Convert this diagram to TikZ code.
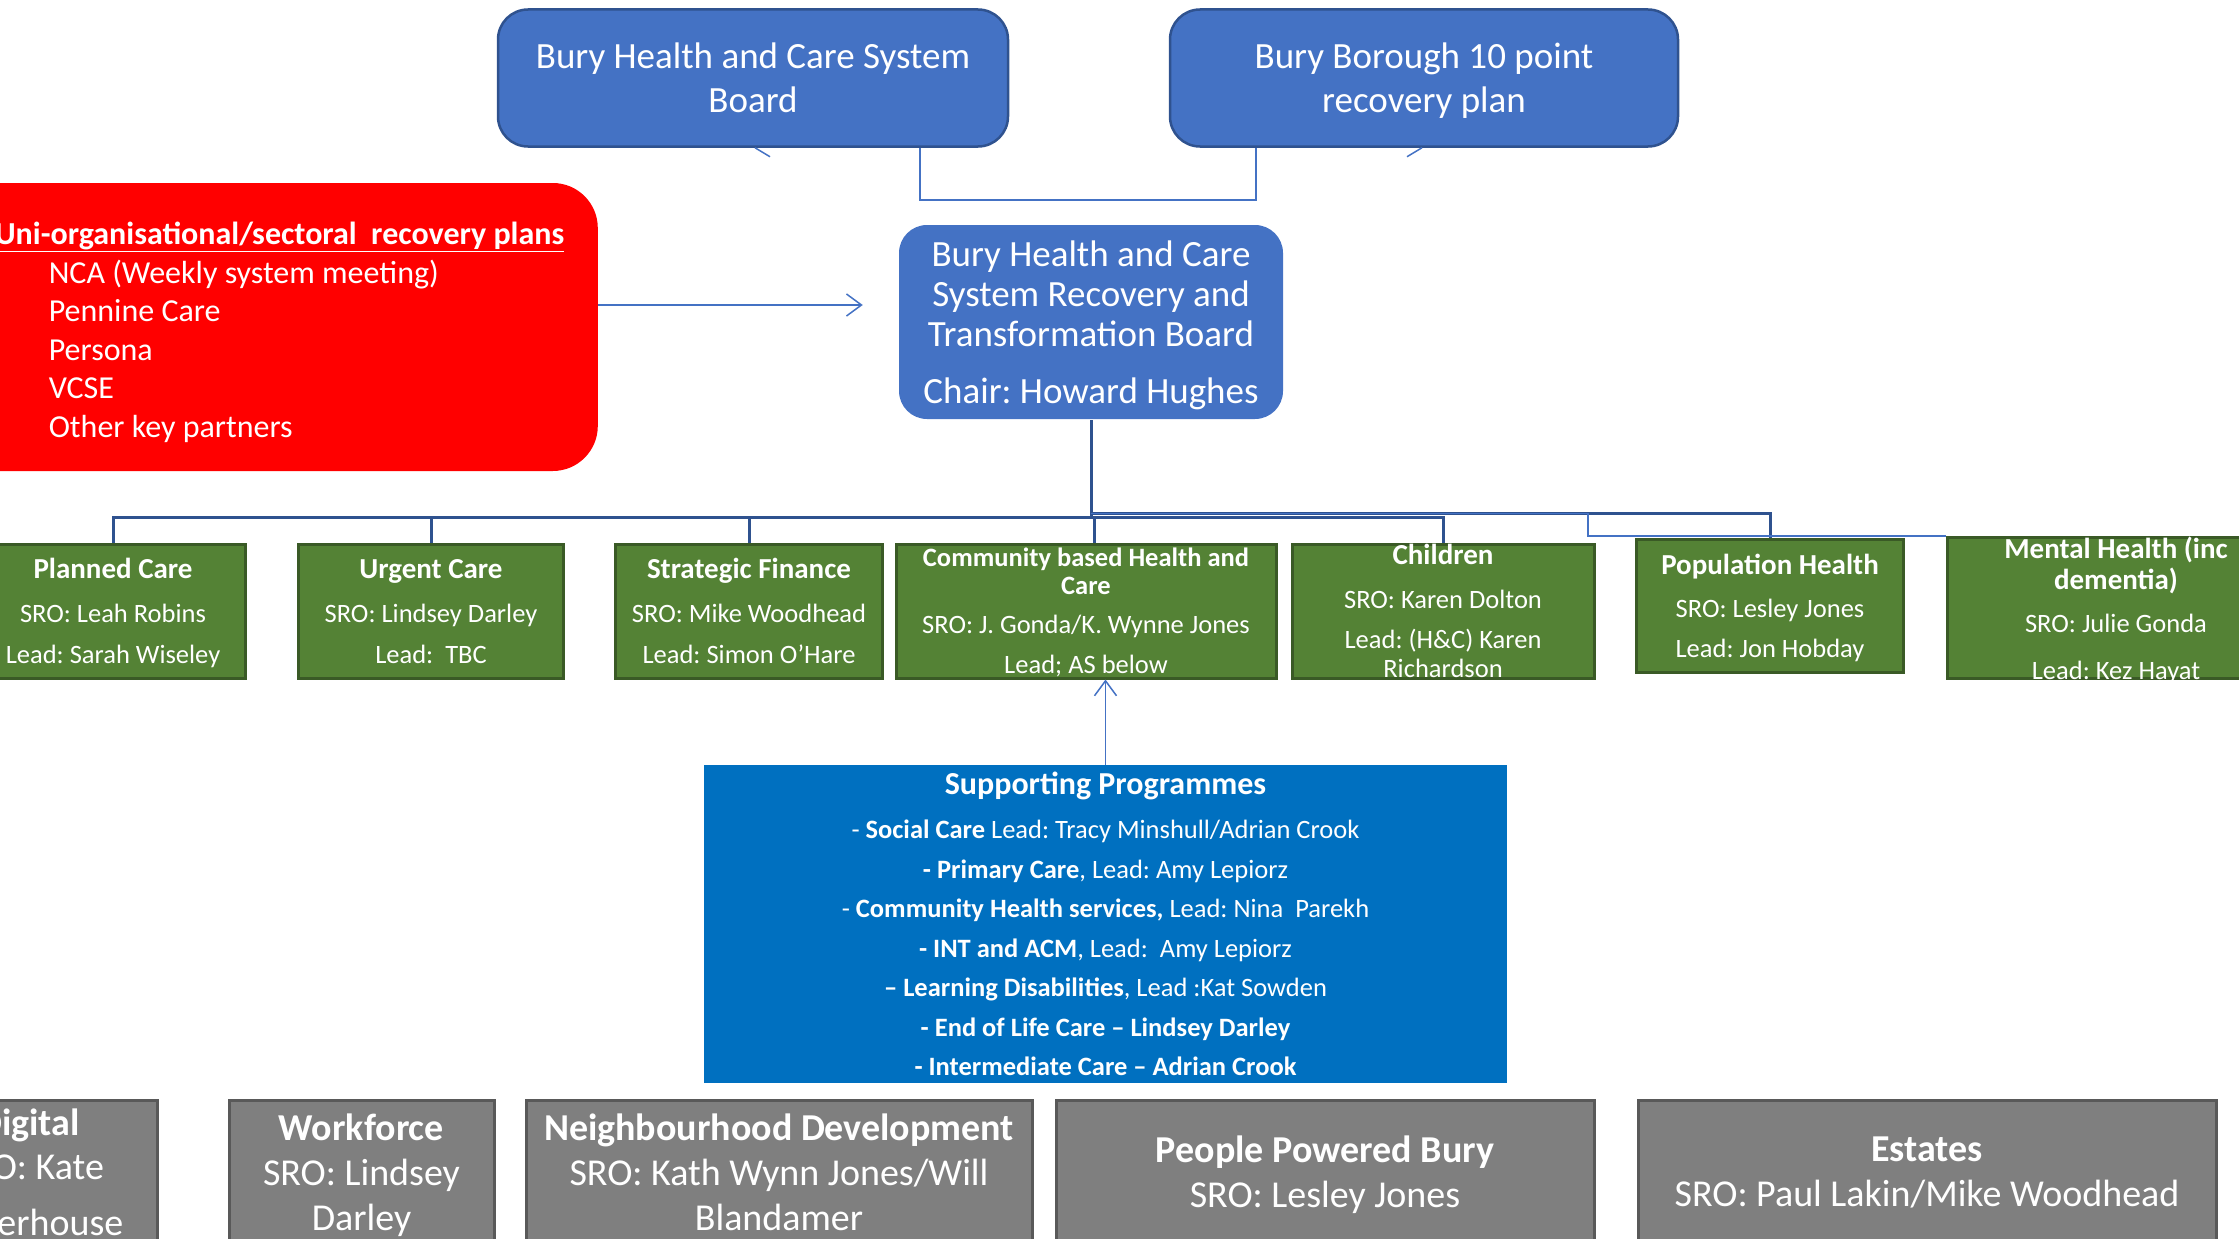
\documentclass[tikz,border=0pt]{standalone}
\usepackage{fontspec}
\setmainfont{Carlito}
\frenchspacing
\usetikzlibrary{arrows.meta}
\definecolor{boardblue}{HTML}{4472C4}
\definecolor{boardedge}{HTML}{2F528F}
\definecolor{wsgreen}{HTML}{548235}
\definecolor{wsedge}{HTML}{3A5A26}
\definecolor{progblue}{HTML}{0070C0}
\definecolor{enabgrey}{HTML}{7F7F7F}
\definecolor{enabedge}{HTML}{595959}

\begin{document}
\begin{tikzpicture}[x=1pt, y=-1pt,
  board/.style={draw=boardedge, line width=2.5pt, fill=boardblue, rounded corners=30pt, text=white, align=center, inner sep=0pt, text depth=0pt, font=\fontsize{37}{44}\selectfont},
  workstream/.style={draw=wsedge, line width=3pt, fill=wsgreen, text=white, align=center, inner xsep=2pt, inner ysep=0pt, text depth=0pt, minimum height=134pt, font=\fontsize{26.5}{29}\selectfont},
  enabler/.style={draw=enabedge, line width=3pt, fill=enabgrey, text=white, align=center, inner sep=0pt, text depth=0pt, minimum height=144pt, font=\fontsize{38}{45}\selectfont},
  busline/.style={draw=boardedge, line width=3pt},
  thinline/.style={draw=boardblue, line width=1.5pt},
  openarrow/.style={thinline, -{Straight Barb[length=15pt, width=22pt]}}]
  \useasboundingbox (0,0) rectangle (2239,1239);
  \clip (0,0) rectangle (2239,1239);

  \node[board, text depth=-3pt, minimum width=510pt, minimum height=137pt] (sysboard) at (753,78) {Bury Health and Care System\\Board};
  \node[board, text depth=-3pt, minimum width=508pt, minimum height=137pt] (plan) at (1424,78) {Bury Borough 10 point\\recovery plan};
  \node[board, draw=none, rounded corners=28pt, minimum width=384pt, minimum height=194pt, font=\fontsize{37}{40}\selectfont] (recovery) at (1091,322) {Bury Health and Care\\System Recovery and\\Transformation Board\\[17pt]Chair: Howard Hughes};

  \node[fill=red, rounded corners=45pt, anchor=east, text width=655pt, inner xsep=0pt, minimum height=288pt, align=flush left, text=white, font=\fontsize{32}{38.5}\selectfont] (plans) at (598,327)
    {\rule{0pt}{33pt}\hspace*{52pt}\raisebox{0pt}[\height][0pt]{\textbf{\underline{Uni-organisational/sectoral~ recovery plans}}}\\
     \hspace*{106pt}NCA (Weekly system meeting)\\
     \hspace*{106pt}Pennine Care\\
     \hspace*{106pt}Persona\\
     \hspace*{106pt}VCSE\\
     \hspace*{106pt}Other key partners};

  \node[workstream, minimum width=265pt] (planned) at (113,611) {\textbf{\fontsize{29}{29}\selectfont Planned Care}\\[15pt]SRO: Leah Robins\\[12pt]Lead: Sarah Wiseley};
  \node[workstream, minimum width=265pt] (urgent) at (431,611) {\textbf{\fontsize{29}{29}\selectfont Urgent Care}\\[15pt]SRO: Lindsey Darley\\[12pt]Lead:~ TBC};
  \node[workstream, minimum width=267pt] (strategic) at (749,611) {\textbf{\fontsize{29}{29}\selectfont Strategic Finance}\\[15pt]SRO: Mike Woodhead\\[12pt]Lead: Simon O’Hare};
  \node[workstream, minimum width=380pt] (community) at (1086,611) {\textbf{Community based Health and}\\[-1pt]\textbf{Care}\\[10pt]SRO: J. Gonda/K. Wynne Jones\\[11pt]Lead; AS below};
  \node[workstream, minimum width=302pt] (children) at (1443,611) {\textbf{\fontsize{29}{29}\selectfont Children}\\[15pt]SRO: Karen Dolton\\[11pt]Lead: (H\&C) Karen\\Richardson};
  \node[workstream, minimum width=267pt, minimum height=133pt] (population) at (1770,606) {\textbf{\fontsize{29}{29}\selectfont Population Health}\\[14pt]SRO: Lesley Jones\\[11pt]Lead: Jon Hobday};
  \node[workstream, minimum width=338pt, minimum height=141pt, inner ysep=-6pt] (mental) at (2116,608) {\textbf{\fontsize{29}{29}\selectfont Mental Health (inc}\\[2pt]\textbf{\fontsize{29}{29}\selectfont dementia)}\\[14pt]SRO: Julie Gonda\\[18pt]Lead: Kez Hayat};

  \node[fill=progblue, text=white, align=center, minimum width=803pt, minimum height=318pt, inner sep=0pt, font=\fontsize{26.5}{39.5}\selectfont] (support) at (1105.5,924)
    {\textbf{\fontsize{32}{32}\selectfont Supporting Programmes}\\[4.5pt]
     - \textbf{Social Care} Lead: Tracy Minshull/Adrian Crook\\
     \textbf{- Primary Care}, Lead: Amy Lepiorz\\
     - \textbf{Community Health services,} Lead: Nina~ Parekh\\
     \textbf{- INT and ACM}, Lead:~ Amy Lepiorz\\
     \textbf{– Learning Disabilities}, Lead :Kat Sowden\\
     \textbf{- End of Life Care – Lindsey Darley}\\
     \textbf{- Intermediate Care – Adrian Crook}};

  \node[enabler, minimum width=257pt] (digital) at (29,1172) {\textbf{Digital}\\[-1pt]SRO: Kate\\[11pt]Waterhouse};
  \node[enabler, minimum width=265pt] (workforce) at (361.5,1172) {\textbf{Workforce}\\SRO: Lindsey\\Darley};
  \node[enabler, minimum width=506pt] (neighbourhood) at (779,1172) {\textbf{Neighbourhood Development}\\SRO: Kath Wynn Jones/Will\\Blandamer};
  \node[enabler, minimum width=538pt] (people) at (1325,1172) {\textbf{People Powered Bury}\\SRO: Lesley Jones};
  \node[enabler, minimum width=578pt] (estates) at (1927,1172) {\textbf{Estates}\\SRO: Paul Lakin/Mike Woodhead};

  \draw[thinline] ([xshift=167pt]sysboard.south) -- ++(0,52) -| ([xshift=-168pt]plan.south);
  \draw[thinline] ([xshift=2pt]sysboard.south) -- ++(15,9);
  \draw[thinline] ([xshift=-2pt]plan.south) -- ++(-15,9);
  \draw[openarrow, shorten >=35pt] ([yshift=22pt]plans.east) -- ([yshift=22pt]plans.east -| recovery.west);

  \draw[busline] (recovery.south) -- ++(0,97) coordinate (hub);
  \foreach \ws in {planned,urgent,strategic,children} \draw[busline] (hub) -| (\ws.north);
  \draw[busline] (hub) -| ([xshift=8pt]community.north);
  \draw[busline] ([yshift=4pt]hub) -| (population.north);
  \draw[thinline] ([yshift=4pt]hub) -- ++(497,0) |- (mental.north west);
  \draw[openarrow] (support.north) -- (support.north |- community.south);
\end{tikzpicture}
\end{document}
